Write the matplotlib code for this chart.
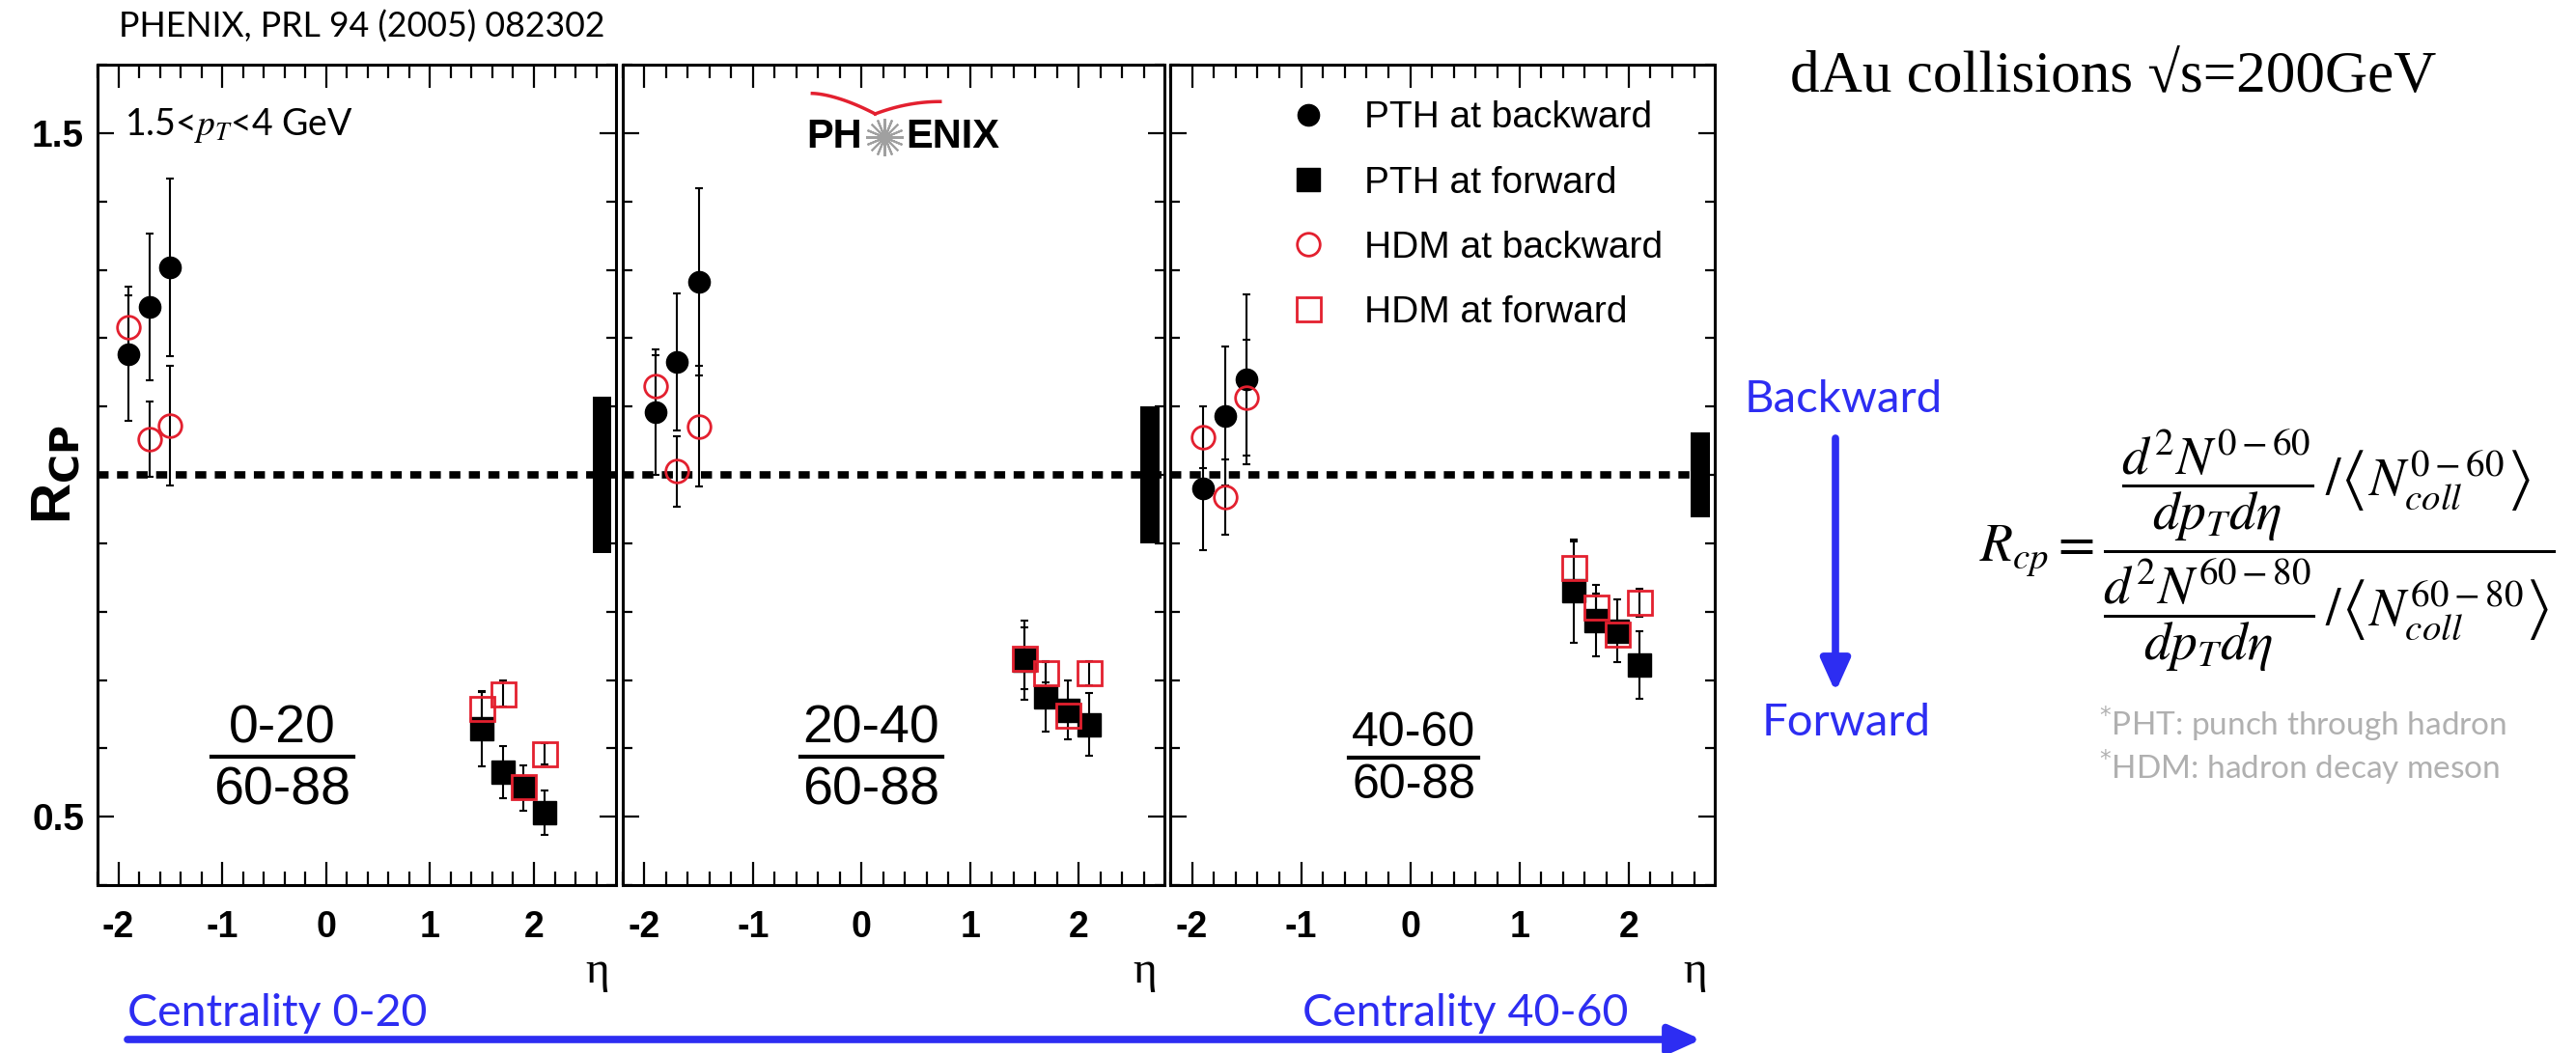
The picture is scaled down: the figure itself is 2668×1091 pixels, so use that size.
import numpy as np
import matplotlib.pyplot as plt
from matplotlib.patches import FancyArrowPatch
from matplotlib.ticker import MultipleLocator, FixedLocator

plt.rcParams['axes.unicode_minus'] = False

W, H = 2668, 1091

# eta bins of the two muon arms
eta_back = [-1.9, -1.7, -1.5]
eta_fwd = [1.5, 1.7, 1.9, 2.1]

# centrality classes, one panel each
cent_num = ['0-20', '20-40', '40-60']
cent_den = '60-88'

# R_CP, one row per panel
pth_back = [[1.177, 1.246, 1.304], [1.092, 1.165, 1.283], [0.980, 1.086, 1.140]]
pth_back_err = [[0.098, 0.107, 0.130], [0.092, 0.100, 0.137], [0.090, 0.102, 0.124]]
pth_fwd = [[0.629, 0.565, 0.542, 0.506], [0.729, 0.676, 0.656, 0.635], [0.830, 0.787, 0.772, 0.722]]
pth_fwd_err = [[0.055, 0.038, 0.033, 0.032], [0.058, 0.051, 0.043, 0.046], [0.075, 0.052, 0.046, 0.050]]
hdm_back = [[1.216, 1.052, 1.072], [1.130, 1.005, 1.071], [1.055, 0.968, 1.113]]
hdm_back_err = [[0.046, 0.055, 0.087], [0.045, 0.052, 0.088], [0.045, 0.055, 0.085]]
hdm_fwd = [[0.659, 0.680, 0.544, 0.592], [0.732, 0.711, 0.649, 0.710], [0.865, 0.807, 0.767, 0.813]]
hdm_fwd_err = [[0.024, 0.019, 0.008, 0.015], [0.045, 0.015, 0.010, 0.018], [0.037, 0.020, 0.010, 0.020]]
# global N_coll normalisation uncertainty (box at R=1)
norm_err = [0.115, 0.100, 0.062]

labels = ['PTH at backward', 'PTH at forward', 'HDM at backward', 'HDM at forward']

RED = '#e3202f'
BLUE = '#2d2df2'
GRAY = '#b0b0b0'
SANS = ['Liberation Sans', 'DejaVu Sans']
CAL = ['Lato', 'DejaVu Sans']

# panel frames in pixels (left, right), common top/bottom
panels = [(101, 638), (645, 1206), (1212, 1776)]
top, bot = 67, 917
# where the centrality ratio sits in each panel (eta centre, half width, font)
frac_x = [-0.42, 0.09, 0.03]
frac_half = [0.68, 0.655, 0.59]
frac_fs = [40, 40, 36]
frac_y = [(0.628, 0.588, 0.537), (0.628, 0.588, 0.537), (0.622, 0.586, 0.546)]

fig = plt.figure(figsize=(W / 100, H / 100), dpi=100)


def fx(px):
    return px / W


def fy(py):
    return 1 - py / H


axes = []
for i, (l, r) in enumerate(panels):
    ax = fig.add_axes([fx(l), fy(bot), (r - l) / W, (bot - top) / H])
    axes.append(ax)

    ax.axhline(1.0, color='black', lw=5.5, dashes=(1.5, 1.15), zorder=1)
    ax.bar(2.655, 2 * norm_err[i], bottom=1 - norm_err[i], width=0.18,
           color='black', zorder=5)

    ekw = dict(fmt='none', ecolor='black', elinewidth=1.5, capsize=3, capthick=1.5, zorder=2)
    ax.errorbar(eta_back, pth_back[i], yerr=pth_back_err[i], **ekw)
    ax.errorbar(eta_fwd, pth_fwd[i], yerr=pth_fwd_err[i], **ekw)
    ax.errorbar(eta_back, hdm_back[i], yerr=hdm_back_err[i], **ekw)
    ax.errorbar(eta_fwd, hdm_fwd[i], yerr=hdm_fwd_err[i], **ekw)

    ax.plot(eta_back, pth_back[i], 'o', color='black', ms=16, ls='none', zorder=3, label=labels[0])
    ax.plot(eta_fwd, pth_fwd[i], 's', color='black', ms=17, ls='none', zorder=3, label=labels[1])
    ax.plot(eta_back, hdm_back[i], 'o', mfc='none', mec=RED, mew=2, ms=17, ls='none',
            zorder=4, label=labels[2])
    ax.plot(eta_fwd, hdm_fwd[i], 's', mfc='none', mec=RED, mew=2, ms=18, ls='none',
            zorder=4, label=labels[3])

    ax.set_xlim(-2.2, 2.79)
    ax.set_ylim(0.4, 1.6)
    ax.xaxis.set_major_locator(FixedLocator([-2, -1, 0, 1, 2]))
    ax.xaxis.set_minor_locator(MultipleLocator(0.2))
    ax.yaxis.set_major_locator(FixedLocator([0.5, 1.5]))
    ax.yaxis.set_minor_locator(MultipleLocator(0.1))
    ax.tick_params(axis='x', which='major', direction='in', length=17, width=1.6,
                   top=True, bottom=True, labelsize=27, pad=19)
    ax.tick_params(axis='x', which='minor', direction='in', length=10, width=1.6,
                   top=True, bottom=True)
    ax.tick_params(axis='y', which='major', direction='in', length=12, width=1.6,
                   left=True, right=True, labelsize=28, pad=10, labelleft=(i == 0))
    ax.tick_params(axis='y', which='minor', direction='in', length=7, width=1.6,
                   left=True, right=True)
    for lbl in ax.get_xticklabels() + ax.get_yticklabels():
        lbl.set_fontweight('bold')
        lbl.set_family(SANS)
    for sp in ax.spines.values():
        sp.set_linewidth(2.2)

    ax.text(2.61, -0.105, 'η', transform=ax.get_xaxis_transform(), ha='center', va='center',
            fontsize=34, family=['Liberation Serif', 'DejaVu Serif'])

    # centrality ratio label
    yn, yb, yd = frac_y[i]
    ax.text(frac_x[i], yn, cent_num[i], ha='center', va='center', fontsize=frac_fs[i], family=SANS)
    ax.text(frac_x[i], yd, cent_den, ha='center', va='center', fontsize=frac_fs[i], family=SANS)
    ax.plot([frac_x[i] - frac_half[i], frac_x[i] + frac_half[i]], [yb, yb], color='black', lw=3)

ax1, ax2, ax3 = axes
ax1.set_ylabel(r'R$_{\mathbf{CP}}$', fontsize=42, fontweight='bold', family=SANS,
               math_fontfamily='dejavusans')
ax1.yaxis.set_label_coords(-0.03, 0.5)
ax1.text(0.052, 0.926, r'1.5<$p_T$<4 GeV', transform=ax1.transAxes, ha='left', va='center',
         fontsize=27, family=CAL, math_fontfamily='stix')

# PHENIX logo in the middle panel
ax2.text(0.442, 0.912, 'PH', transform=ax2.transAxes, ha='right', va='center',
         fontsize=30, fontweight='bold', family=SANS)
ax2.text(0.522, 0.912, 'ENIX', transform=ax2.transAxes, ha='left', va='center',
         fontsize=30, fontweight='bold', family=SANS)
ax2.plot([0.483], [0.912], marker=(16, 2, 0), ms=28, mew=1.5, color='#a0a0a0',
         transform=ax2.transAxes)
t = np.linspace(0, 1, 30)
ax2.plot(0.350 + 0.116 * t, 0.965 - 0.025 * t ** 1.6, color=RED, lw=2.5, transform=ax2.transAxes)
ax2.plot(0.466 + 0.12 * t, 0.940 + 0.015 * (1 - (1 - t) ** 2), color=RED, lw=2.5,
         transform=ax2.transAxes)

leg = ax3.legend(loc='upper left', bbox_to_anchor=(0.219, 0.956), frameon=False,
                 borderpad=0, borderaxespad=0, handlelength=1.0, handletextpad=1.0,
                 labelspacing=0.8, numpoints=1, prop={'family': SANS, 'size': 28})

# texts around the panels
fig.text(fx(123), fy(28), 'PHENIX, PRL 94 (2005) 082302', ha='left', va='center',
         fontsize=25.7, family=CAL)
fig.text(fx(1854), fy(80), 'dAu collisions √s=200GeV', ha='left', va='center',
         fontsize=44, family=['Liberation Serif', 'DejaVu Serif'])
fig.text(fx(1807), fy(414), 'Backward', ha='left', va='center', fontsize=34, color=BLUE, family=CAL)
fig.text(fx(1825), fy(749), 'Forward', ha='left', va='center', fontsize=34, color=BLUE, family=CAL)
fig.text(fx(2050), fy(570),
         r'$R_{cp} = \dfrac{\dfrac{d^2N^{0-60}}{dp_T d\eta}\,/\left\langle N_{coll}^{0-60}\right\rangle}'
         r'{\dfrac{d^2N^{60-80}}{dp_T d\eta}\,/\left\langle N_{coll}^{60-80}\right\rangle}$',
         ha='left', va='center', fontsize=40, math_fontfamily='stix')
fig.text(fx(2174), fy(750), r'$^{*}$PHT: punch through hadron', ha='left', va='center',
         fontsize=24, color=GRAY, family=CAL, math_fontfamily='dejavusans')
fig.text(fx(2174), fy(795), r'$^{*}$HDM: hadron decay meson', ha='left', va='center',
         fontsize=24, color=GRAY, family=CAL, math_fontfamily='dejavusans')
fig.text(fx(132), fy(1050), 'Centrality 0-20', ha='left', va='center', fontsize=33.5,
         color=BLUE, family=CAL)
fig.text(fx(1349), fy(1050), 'Centrality 40-60', ha='left', va='center', fontsize=33.5,
         color=BLUE, family=CAL)

arrow = dict(arrowstyle='-|>,head_length=1.0,head_width=0.45', color=BLUE, lw=5.5,
             mutation_scale=20, shrinkA=0, shrinkB=0)
fig.add_artist(FancyArrowPatch((fx(1901), fy(454)), (fx(1901), fy(717)),
                               transform=fig.transFigure, **arrow))
fig.add_artist(FancyArrowPatch((fx(132), fy(1077)), (fx(1762), fy(1077)),
                               transform=fig.transFigure, **arrow))

fig.savefig('out.png', dpi=100)
